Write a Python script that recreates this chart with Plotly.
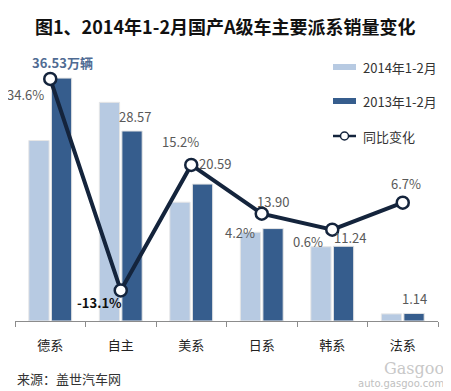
import plotly.graph_objects as go

categories = ["德系", "自主", "美系", "日系", "韩系", "法系"]
sales_2014 = [27.14, 32.88, 17.87, 13.34, 11.17, 1.07]   # light bars (legend: 2014年1-2月)
sales_2013 = [36.53, 28.57, 20.59, 13.90, 11.24, 1.14]   # dark bars (legend: 2013年1-2月)
yoy_change = [34.6, -13.1, 15.2, 4.2, 0.6, 6.7]           # 同比变化 (%)

# page body has an 8px margin: figure is placed at (8, 8) of the window
OFF = 8
WIN_W, WIN_H = 451, 391
W, H = WIN_W - OFF, WIN_H - OFF
# plot area in window pixels
PX0, PX1, PY0, PY1 = 15, 438, 55, 321
ML, MR = PX0 - OFF, W - (PX1 - OFF)
MT, MB = PY0 - OFF, H - (PY1 - OFF)
PW, PH = PX1 - PX0, PY1 - PY0

LIGHT = "#b7cae2"
DARK = "#365d8d"
NAVY = "#14243c"
GRAY = "#595959"
FONT = "Noto Sans CJK SC, Microsoft YaHei, sans-serif"


def px(x):
    return (x - PX0) / PW


def py(y):
    return (PY1 - y) / PH


fig = go.Figure()
fig.add_trace(go.Bar(x=categories, y=sales_2014, name="2014年1-2月",
                     marker=dict(color=LIGHT, line=dict(color="#e6e6e6", width=1)),
                     showlegend=False))
fig.add_trace(go.Bar(x=categories, y=sales_2013, name="2013年1-2月",
                     marker=dict(color=DARK, line=dict(color="#e6e6e6", width=1)),
                     showlegend=False))
fig.add_trace(go.Scatter(x=categories, y=yoy_change, name="同比变化", yaxis="y2",
                         mode="lines+markers",
                         line=dict(color=NAVY, width=4),
                         marker=dict(size=12, color="white", line=dict(color=NAVY, width=2.5)),
                         showlegend=False))

ann = []

def lab(text, x, y, yref, xs, ys, color=GRAY, bold=False, size=13):
    ann.append(dict(text=f"<b>{text}</b>" if bold else text, x=x, y=y, xref="x", yref=yref,
                    xshift=xs, yshift=ys, showarrow=False,
                    font=dict(family=FONT, size=size, color=color)))

# bar labels (dark series)
lab(f"{sales_2013[0]:.2f}万辆", categories[0], sales_2013[0], "y", 12, 16, color="#4f6b93", bold=True)
lab(f"{sales_2013[1]:.2f}", categories[1], sales_2013[1], "y", 14, 15)
lab(f"{sales_2013[2]:.2f}", categories[2], sales_2013[2], "y", 24, 21)
lab(f"{sales_2013[3]:.2f}", categories[3], sales_2013[3], "y", 11, 27)
lab(f"{sales_2013[4]:.2f}", categories[4], sales_2013[4], "y", 18, 9)
lab(f"{sales_2013[5]:.2f}", categories[5], sales_2013[5], "y", 12, 15)
# line labels
lab(f"{yoy_change[0]:.1f}%", categories[0], yoy_change[0], "y2", -25, -16)
lab(f"{yoy_change[1]:.1f}%", categories[1], yoy_change[1], "y2", -21, -12, color="#111111", bold=True)
lab(f"{yoy_change[2]:.1f}%", categories[2], yoy_change[2], "y2", -11, 23)
lab(f"{yoy_change[3]:.1f}%", categories[3], yoy_change[3], "y2", -22, -19)
lab(f"{yoy_change[4]:.1f}%", categories[4], yoy_change[4], "y2", -24, -12)
lab(f"{yoy_change[5]:.1f}%", categories[5], yoy_change[5], "y2", 3, 19)

# title
ann.append(dict(text="<b>图1、2014年1-2月国产A级车主要派系销量变化</b>", x=px(225), y=py(26),
                xref="paper", yref="paper", showarrow=False, xanchor="center", yanchor="middle",
                font=dict(family=FONT, size=18, color="#111111")))
# source
ann.append(dict(text="来源：盖世汽车网", x=px(15), y=py(378), xref="paper", yref="paper",
                showarrow=False, xanchor="left", yanchor="middle",
                font=dict(family=FONT, size=13, color="#333333")))
# watermark
ann.append(dict(text="Gasgoo", x=px(446), y=py(368), xref="paper", yref="paper",
                showarrow=False, xanchor="right", yanchor="middle",
                font=dict(family="DejaVu Serif", size=16, color="#c8c8c8")))
ann.append(dict(text="auto.gasgoo.com", x=px(446), y=py(383), xref="paper", yref="paper",
                showarrow=False, xanchor="right", yanchor="middle",
                font=dict(family="DejaVu Sans", size=10, color="#c0c0c0")))

# manual legend
legend_items = ["2014年1-2月", "2013年1-2月", "同比变化"]
legend_y = [67, 101, 136]
shapes = []
shapes.append(dict(type="rect", xref="paper", yref="paper", x0=px(333), x1=px(356),
                   y0=py(64), y1=py(70), fillcolor=LIGHT, line=dict(width=0)))
shapes.append(dict(type="rect", xref="paper", yref="paper", x0=px(333), x1=px(356),
                   y0=py(98), y1=py(104), fillcolor=DARK, line=dict(width=0)))
shapes.append(dict(type="line", xref="paper", yref="paper", x0=px(333), x1=px(356),
                   y0=py(136), y1=py(136), line=dict(color=NAVY, width=2.5)))
shapes.append(dict(type="circle", xref="paper", yref="paper", x0=px(340.5), x1=px(348.5),
                   y0=py(132), y1=py(140), fillcolor="white", line=dict(color=NAVY, width=1.5)))
for t, yy in zip(legend_items, legend_y):
    ann.append(dict(text=t, x=px(361), y=py(yy), xref="paper", yref="paper", showarrow=False,
                    xanchor="left", yanchor="middle",
                    font=dict(family=FONT, size=13, color="#333333")))

fig.update_layout(
    width=W, height=H,
    margin=dict(l=ML, r=MR, t=MT, b=MB),
    paper_bgcolor="white", plot_bgcolor="white",
    barmode="group", bargap=0.36, bargroupgap=0.1,
    annotations=ann, shapes=shapes,
    xaxis=dict(range=[-0.5, len(categories) - 0.5], autorange=False,
               showline=True, linecolor="#8c8c8c", linewidth=1, ticks="outside",
               tickson="boundaries", ticklen=5, tickcolor="#8c8c8c", showgrid=False,
               ticklabelstandoff=12,
               tickfont=dict(family=FONT, size=13, color="#222222")),
    yaxis=dict(range=[0, 40], visible=False, showgrid=False, zeroline=False),
    yaxis2=dict(range=[-20, 40], overlaying="y", visible=False, showgrid=False, zeroline=False),
)

fig.write_html("out.html")
